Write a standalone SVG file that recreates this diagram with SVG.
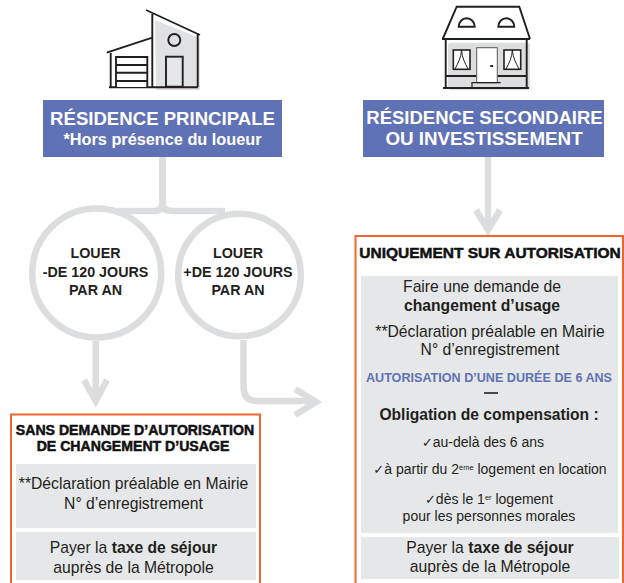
<svg xmlns="http://www.w3.org/2000/svg" width="624" height="583" viewBox="0 0 624 583">
<style>
text{font-family:"Liberation Sans",Arial,sans-serif;fill:#231f20;text-anchor:middle}
.b{font-weight:700}
.h{font-weight:700;fill:#fff}
.t{font-weight:700;fill:#111;stroke:#111;stroke-width:.5}
.c{font-size:14.300px;font-weight:700}
.n{font-size:15.700px}
.s{font-size:14px}
.ck{font-family:"DejaVu Sans",sans-serif}
.con{fill:none;stroke:#dcddde;stroke-width:6.5}
.ring{fill:#fff;stroke:#dcddde;stroke-width:6.5}
.frame{fill:#fff;stroke:#f0652f;stroke-width:2}
.panel{fill:#e6e7e8}
.blue{fill:#5f72b5}
.ink{fill:none;stroke:#231f20;stroke-width:1.9}
</style>
<g id="connectors">
<path class="con" d="M162.500 157V203Q162.500 211 154 211H118"/>
<path class="con" d="M162.500 157V203Q162.500 211 172 211H225"/>
<path class="con" d="M488 157V228"/>
<path class="con" d="M476 210L488 230L500 210"/>
<path class="con" d="M95.700 341V402"/>
<path class="con" d="M84 380L95.700 401L107 380"/>
<path class="con" d="M243.500 340V387Q243.500 401 257 401H316"/>
<path class="con" d="M295 389L316 402L295 415"/>
</g>
<g id="icon-house-1">
<path d="M155 20L200 38V90H156Z" fill="#e0e1e2"/>
<path class="ink" d="M146 10L200 35M152.300 14V87M197.700 33V87M106.700 52.700L152.300 37.700M110.700 53V87M109 87.300H198"/>
<path class="ink" style="fill:#fff" d="M116 87V57H147.300V87"/>
<path class="ink" d="M116 65H147.300M116 72.700H147.300M116 81H147.300"/>
<circle cx="174.300" cy="40" r="6" fill="#e0e1e2" stroke="#231f20" stroke-width="1.900"/>
<rect x="166" y="56.700" width="16.700" height="30" fill="#e6e7e8" stroke="#231f20" stroke-width="1.900"/>
</g>
<g id="icon-house-2">
<rect x="448" y="42.700" width="82" height="47.300" rx="3" fill="#dcddde"/>
<path class="ink" d="M442.700 39L456.700 6.700H519.300L530 39M442 39H530M445.700 39V88M526.700 39V88M443 88H529M446 76H526"/>
<path class="ink" d="M458.700 26.700A8 8.400 0 0 1 474.700 26.700ZM498.300 26.700A8 8.400 0 0 1 514.300 26.700Z"/>
<rect x="453.300" y="50" width="16.700" height="19.300" fill="#fff" stroke="#231f20" stroke-width="1.600"/>
<rect x="504" y="50" width="16.700" height="19.300" fill="#fff" stroke="#231f20" stroke-width="1.600"/>
<path class="ink" style="stroke-width:1" d="M461.600 50C461 58 458 63 455 69M461.600 50C462 58 465 63 468 69M512.300 50C512 58 509 63 506 69M512.300 50C513 58 516 63 519 69"/>
<rect x="476.700" y="47.700" width="20.600" height="35" fill="#fff" stroke="#58595b" stroke-width="1"/>
<path class="ink" d="M490.200 66H493.200"/>
<path class="ink" style="stroke-width:1.200" d="M472 87.300V82.700H500.700"/>
</g>
<g id="node-residence-principale">
<rect class="blue" x="43" y="100" width="239" height="57"/>
<text class="h" x="162.500" y="125" font-size="18.600">RÉSIDENCE PRINCIPALE</text>
<text class="h" x="162.500" y="145" font-size="16.300">*Hors présence du loueur</text>
</g>
<g id="node-residence-secondaire">
<rect class="blue" x="363" y="100" width="241" height="57"/>
<text class="h" x="484.500" y="124" font-size="18.500">RÉSIDENCE SECONDAIRE</text>
<text class="h" x="484" y="145" font-size="18.800">OU INVESTISSEMENT</text>
</g>
<g id="node-moins-120">
<circle class="ring" cx="96.700" cy="273" r="64.500"/>
<text class="c" x="95.500" y="258">LOUER</text>
<text class="c" x="95.500" y="277">-DE 120 JOURS</text>
<text class="c" x="95.500" y="295">PAR AN</text>
</g>
<g id="node-plus-120">
<circle class="ring" cx="239.500" cy="275" r="61.300"/>
<text class="c" x="238" y="258">LOUER</text>
<text class="c" x="238" y="277">+DE 120 JOURS</text>
<text class="c" x="238" y="295">PAR AN</text>
</g>
<g id="node-sans-demande">
<path class="frame" d="M11 584V414.500H260V584"/>
<text class="t" x="135" y="435" font-size="14.100">SANS DEMANDE D’AUTORISATION</text>
<text class="t" x="133" y="451" font-size="14.100">DE CHANGEMENT D’USAGE</text>
<rect class="panel" x="16" y="464" width="240" height="64"/>
<text class="n" x="133.500" y="489">**Déclaration préalable en Mairie</text>
<text class="n" x="133.500" y="509">N° d’enregistrement</text>
<rect class="panel" x="16" y="532" width="240" height="48"/>
<text class="n" x="133.500" y="553">Payer la <tspan class="b">taxe de séjour</tspan></text>
<text class="n" x="133.500" y="573">auprès de la Métropole</text>
</g>
<g id="node-autorisation">
<path class="frame" d="M355.500 584V236H623V584"/>
<text class="t" x="490" y="258" font-size="15.500">UNIQUEMENT SUR AUTORISATION</text>
<rect class="panel" x="361" y="276" width="257" height="257"/>
<text class="n" x="482" y="292">Faire une demande de</text>
<text class="n b" x="482" y="311">changement d’usage</text>
<text class="n" x="490" y="337">**Déclaration préalable en Mairie</text>
<text class="n" x="490" y="355">N° d’enregistrement</text>
<text class="b" x="489" y="382" font-size="12.600" style="fill:#5f72b5">AUTORISATION D’UNE DURÉE DE 6 ANS</text>
<path d="M484 393H498" stroke="#231f20" stroke-width="1.600"/>
<text class="b" x="489" y="420" font-size="15.600">Obligation de compensation :</text>
<text class="s" x="483" y="447"><tspan class="ck" font-size="13">✓</tspan>au-delà des 6 ans</text>
<text class="s" x="490" y="474"><tspan class="ck" font-size="13">✓</tspan>à partir du 2<tspan font-size="7.500" dy="-4">ème</tspan><tspan dy="4"> logement en location</tspan></text>
<text class="s" x="489" y="504"><tspan class="ck" font-size="13">✓</tspan>dès le 1<tspan font-size="7.500" dy="-4">er</tspan><tspan dy="4"> logement</tspan></text>
<text class="s" x="489" y="521">pour les personnes morales</text>
<rect class="panel" x="361" y="537" width="258" height="42"/>
<text class="n" x="490" y="553">Payer la <tspan class="b">taxe de séjour</tspan></text>
<text class="n" x="490" y="572">auprès de la Métropole</text>
</g>
</svg>
